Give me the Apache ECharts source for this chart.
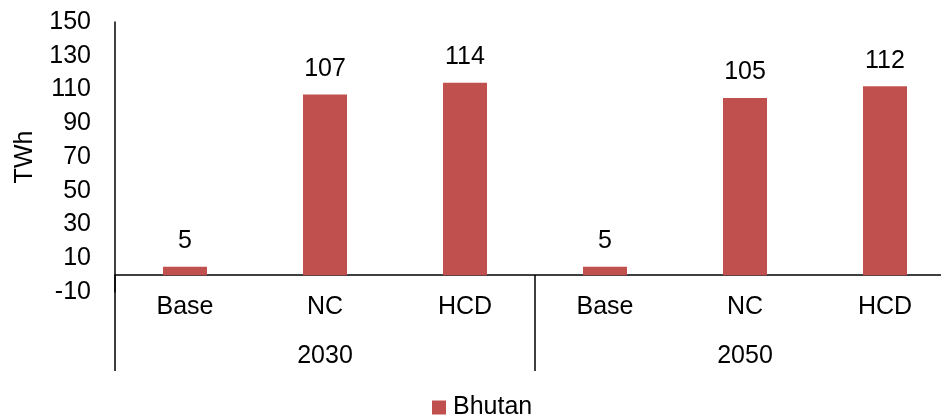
<!DOCTYPE html>
<html>
<head>
<meta charset="utf-8">
<script src="https://cdn.jsdelivr.net/npm/echarts@6/dist/echarts.min.js"></script>
<style>
  html, body { margin: 0; padding: 0; background: #fff; }
  #chart { width: 941px; height: 419px; }
</style>
</head>
<body>
<div id="chart"></div>
<script>
// Scenario labels (inner axis level) and year groups (outer level)
const scenarios = ['Base', 'NC', 'HCD', 'Base', 'NC', 'HCD'];
const years = ['2030', '2050'];
// Bhutan generation, TWh
const bhutan = [5, 107, 114, 5, 105, 112];
const seriesName = 'Bhutan';

const FONT = 'Liberation Sans, Arial, sans-serif';
const FS = 25;

const chart = echarts.init(document.getElementById('chart'));
chart.setOption({
  animation: false,
  backgroundColor: '#fff',
  textStyle: { fontFamily: FONT, color: '#000' },
  legend: {
    data: [seriesName],
    left: 427,
    top: 390,
    icon: 'rect',
    itemWidth: 14,
    itemHeight: 14,
    itemGap: 8,
    textStyle: { fontFamily: FONT, fontSize: FS, color: '#000', padding: [0, 0, 0, 2] }
  },
  // plot area runs past the right edge of the canvas
  grid: {
    left: 115, top: 22, width: 840, height: 270,
    containLabel: false,
    outerBoundsMode: 'none'
  },
  xAxis: [
    {
      type: 'category',
      data: scenarios,
      position: 'bottom',
      offset: -17,
      axisLine: { onZero: false, lineStyle: { color: '#000', width: 1.5 } },
      axisTick: { show: false },
      axisLabel: { margin: 20, fontFamily: FONT, fontSize: FS, color: '#000' }
    },
    {
      type: 'category',
      data: years,
      position: 'bottom',
      offset: -17,
      axisLine: { onZero: false, show: false },
      axisTick: { show: true, length: 96, lineStyle: { color: '#000', width: 1.5 } },
      axisLabel: { margin: 69, fontFamily: FONT, fontSize: FS, color: '#000' }
    }
  ],
  yAxis: {
    type: 'value',
    min: -10,
    max: 150,
    interval: 20,
    name: 'TWh',
    nameLocation: 'middle',
    nameGap: 77,
    nameRotate: 90,
    nameTextStyle: { fontFamily: FONT, fontSize: FS, color: '#000' },
    axisLine: { show: true, lineStyle: { color: '#000', width: 1.5 } },
    axisTick: { show: false },
    splitLine: { show: false },
    axisLabel: { margin: 24, fontFamily: FONT, fontSize: FS, color: '#000' }
  },
  series: [
    {
      name: seriesName,
      type: 'bar',
      xAxisIndex: 0,
      data: bhutan,
      barWidth: 44,
      itemStyle: { color: '#C0504D' },
      label: {
        show: true,
        position: 'top',
        distance: 13,
        fontFamily: FONT,
        fontSize: FS,
        color: '#000'
      }
    }
  ]
});
</script>
</body>
</html>
